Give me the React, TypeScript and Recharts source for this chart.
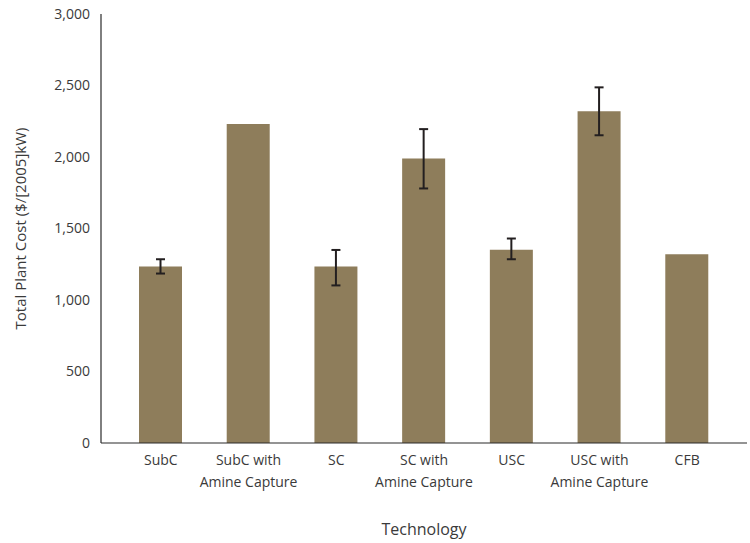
import { BarChart, Bar, XAxis, YAxis, ErrorBar, Label } from 'recharts';

const categories = [
  'SubC',
  'SubC with\nAmine Capture',
  'SC',
  'SC with\nAmine Capture',
  'USC',
  'USC with\nAmine Capture',
  'CFB',
];
const costs = [1235, 2230, 1235, 1990, 1352, 2320, 1320];
const lowBounds: (number | null)[] = [1185, null, 1102, 1780, 1285, 2152, null];
const highBounds: (number | null)[] = [1285, null, 1350, 2195, 1430, 2487, null];
const yTicks = [0, 500, 1000, 1500, 2000, 2500, 3000];

const FONT = '"Open Sans", sans-serif';
const TEXT = '#3a3a3a';
const AXIS = '#2b2b2b';

const data = categories.map((name, i) => ({
  name,
  cost: costs[i],
  err:
    lowBounds[i] == null || highBounds[i] == null
      ? null
      : [costs[i] - (lowBounds[i] as number), (highBounds[i] as number) - costs[i]],
}));

const CategoryTick = ({ x, y, payload }: any) => {
  const lines = String(payload.value).split('\n');
  return (
    <text x={x} y={y} textAnchor="middle" fill={TEXT} fontSize={14} fontFamily={FONT}>
      {lines.map((line, i) => (
        <tspan key={i} x={x} dy={i === 0 ? 14 : 22}>
          {line}
        </tspan>
      ))}
    </text>
  );
};

export default function App() {
  return (
    <div style={{ position: 'absolute', left: 0, top: 0, background: '#fff' }}>
      <BarChart
        width={750}
        height={543}
        data={data}
        margin={{ top: 14, right: 3, bottom: 0, left: 0 }}
        barSize={43}
      >
        <XAxis
          dataKey="name"
          interval={0}
          padding={{ left: 16, right: 16 }}
          tickLine={false}
          axisLine={{ stroke: AXIS, strokeWidth: 1.2 }}
          tick={<CategoryTick />}
          height={100}
        >
          <Label
            value="Technology"
            position="insideBottom"
            offset={8}
            style={{ fill: TEXT, fontSize: 16, fontFamily: FONT }}
          />
        </XAxis>
        <XAxis
          xAxisId="top"
          orientation="top"
          dataKey="name"
          tick={false}
          tickLine={false}
          height={0}
          axisLine={{ stroke: AXIS, strokeWidth: 1.2 }}
        />
        <YAxis
          domain={[0, 3000]}
          ticks={yTicks}
          width={101}
          tickLine={false}
          tickMargin={5}
          axisLine={{ stroke: AXIS, strokeWidth: 1.2 }}
          tickFormatter={(v: number) => v.toLocaleString('en-US')}
          tick={{ fill: TEXT, fontSize: 14, fontFamily: FONT }}
        >
          <Label
            value="Total Plant Cost ($/[2005]kW)"
            angle={-90}
            position="insideLeft"
            offset={21}
            style={{ fill: TEXT, fontSize: 15, fontFamily: FONT, textAnchor: 'middle' }}
          />
        </YAxis>
        <YAxis
          yAxisId="right"
          orientation="right"
          domain={[0, 3000]}
          tick={false}
          tickLine={false}
          width={0}
          axisLine={{ stroke: AXIS, strokeWidth: 1.2 }}
        />
        <Bar dataKey="cost" fill="#8e7d5b" isAnimationActive={false}>
          <ErrorBar dataKey="err" width={4.5} stroke="#231f20" strokeWidth={2} direction="y" />
        </Bar>
      </BarChart>
    </div>
  );
}
